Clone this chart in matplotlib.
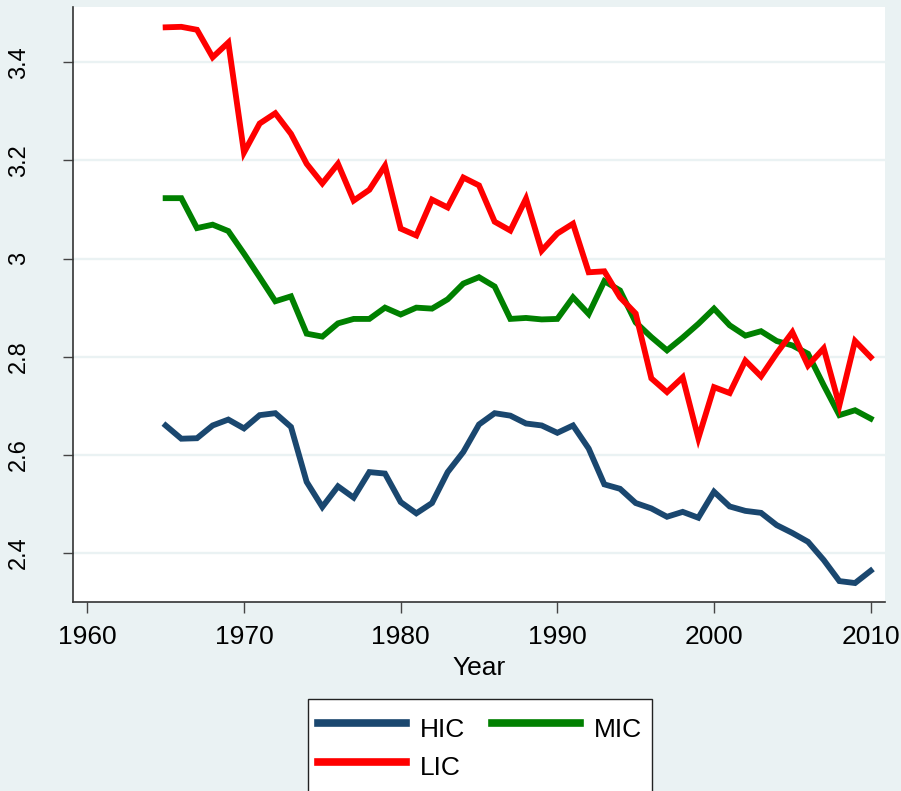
import matplotlib

matplotlib.use("Agg")

import matplotlib.pyplot as plt
from matplotlib import font_manager

years = list(range(1965, 2011))

hic = [2.660, 2.633, 2.634, 2.660, 2.672, 2.654, 2.681, 2.685, 2.657, 2.545,
       2.494, 2.536, 2.513, 2.565, 2.562, 2.504, 2.481, 2.502, 2.565, 2.606,
       2.662, 2.685, 2.680, 2.664, 2.660, 2.645, 2.660, 2.613, 2.540, 2.531,
       2.502, 2.491, 2.474, 2.484, 2.472, 2.525, 2.495, 2.486, 2.482, 2.457,
       2.441, 2.423, 2.386, 2.343, 2.339, 2.364]

mic = [3.123, 3.123, 3.062, 3.069, 3.056, 3.010, 2.962, 2.913, 2.923, 2.847,
       2.841, 2.868, 2.877, 2.877, 2.900, 2.886, 2.900, 2.898, 2.917, 2.949,
       2.962, 2.943, 2.877, 2.879, 2.876, 2.877, 2.921, 2.887, 2.954, 2.935,
       2.870, 2.840, 2.813, 2.839, 2.867, 2.898, 2.864, 2.843, 2.852, 2.832,
       2.823, 2.806, 2.742, 2.681, 2.691, 2.674]

lic = [3.471, 3.472, 3.466, 3.410, 3.440, 3.216, 3.275, 3.296, 3.254, 3.193,
       3.153, 3.193, 3.118, 3.140, 3.189, 3.061, 3.047, 3.120, 3.104, 3.165,
       3.149, 3.075, 3.057, 3.122, 3.016, 3.051, 3.071, 2.972, 2.974, 2.921,
       2.888, 2.756, 2.728, 2.758, 2.634, 2.738, 2.726, 2.792, 2.760, 2.807,
       2.850, 2.782, 2.817, 2.701, 2.832, 2.799]

x_ticks = [1960, 1970, 1980, 1990, 2000, 2010]
y_ticks = [2.4, 2.6, 2.8, 3.0, 3.2, 3.4]
y_tick_labels = ["2.4", "2.6", "2.8", "3", "3.2", "3.4"]

BG = "#EAF2F3"
COLORS = {"HIC": "#1A476F", "MIC": "#008000", "LIC": "#FF0000"}

installed = {f.name for f in font_manager.fontManager.ttflist}
narrow = "Liberation Sans Narrow" if "Liberation Sans Narrow" in installed else "Liberation Sans"
text_size = 21 if narrow == "Liberation Sans Narrow" else 19
plt.rcParams["font.family"] = [narrow, "DejaVu Sans"]

fig = plt.figure(figsize=(9.01, 7.91), dpi=100, facecolor=BG)
ax = fig.add_axes([73 / 901, 1 - 601.7 / 791, 812 / 901, 595 / 791])
ax.set_facecolor("white")

lw = 4.2
h_line, = ax.plot(years, hic, color=COLORS["HIC"], lw=lw, label="HIC", solid_joinstyle="miter")
m_line, = ax.plot(years, mic, color=COLORS["MIC"], lw=lw, label="MIC", solid_joinstyle="miter")
l_line, = ax.plot(years, lic, color=COLORS["LIC"], lw=lw, label="LIC", solid_joinstyle="miter")

ax.set_xlim(1959.087, 2010.913)
ax.set_ylim(2.301, 3.513)

ax.set_yticks(y_ticks)
ax.set_yticklabels(y_tick_labels, rotation=90, va="center",
                   family="Liberation Sans", fontsize=17)
ax.set_xticks(x_ticks)
ax.set_xticklabels([str(t) for t in x_ticks], fontsize=text_size)
ax.tick_params(axis="y", length=7, width=1, color="#444444", pad=24)
ax.tick_params(axis="x", length=8, width=1, color="#444444", pad=9)

ax.grid(axis="y", color=BG, lw=1.7)
ax.set_axisbelow(True)
for side in ("top", "right"):
    ax.spines[side].set_visible(False)
for side in ("left", "bottom"):
    ax.spines[side].set_color("#333333")
    ax.spines[side].set_linewidth(1.2)

ax.set_xlabel("Year", fontsize=text_size, labelpad=5)

leg = fig.legend(
    handles=[h_line, l_line, m_line],
    labels=["HIC", "LIC", "MIC"],
    ncol=2,
    loc="upper left",
    bbox_to_anchor=(307.7 / 901, 1 - 699 / 791),
    borderaxespad=0,
    fontsize=text_size,
    frameon=True,
    framealpha=1.0,
    fancybox=False,
    shadow=False,
    handlelength=3.33,
    handleheight=1.85,
    handletextpad=0.53,
    columnspacing=1.0,
    borderpad=0.4,
    labelspacing=0.0,
)
leg.get_frame().set_edgecolor("#222222")
leg.get_frame().set_linewidth(1.0)
leg.get_frame().set_facecolor("white")
for line in leg.get_lines():
    line.set_linewidth(5.5)

fig.savefig("out.png", dpi=100, facecolor=BG)
